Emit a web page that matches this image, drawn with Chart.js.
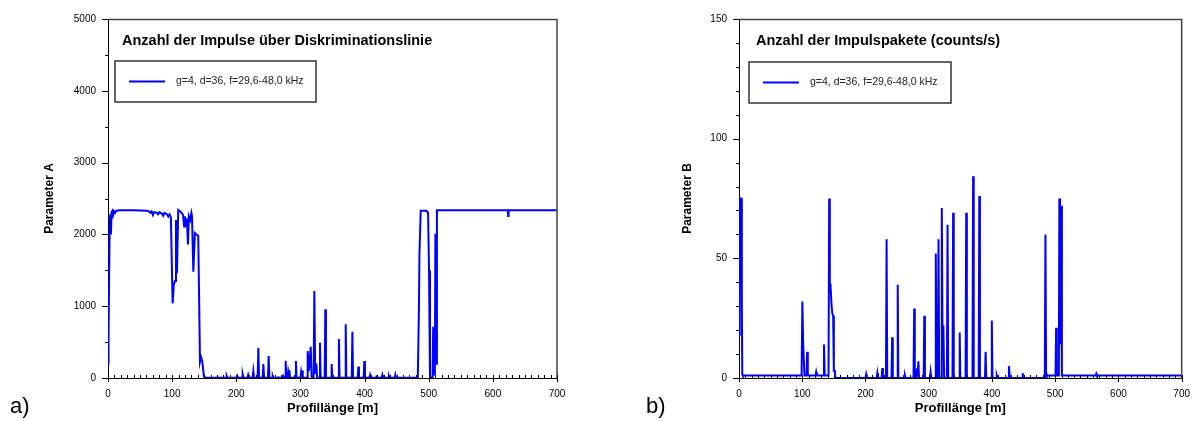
<!DOCTYPE html>
<html><head><meta charset="utf-8">
<script src="https://cdn.jsdelivr.net/npm/chart.js@4.4.0/dist/chart.umd.min.js"></script>
<style>
html,body{margin:0;padding:0;background:#fff;width:1200px;height:421px;overflow:hidden;}
.c{position:absolute;top:0;width:600px;height:421px;}
.lab{position:absolute;font-family:"Liberation Sans",Arial,sans-serif;font-size:22px;line-height:22px;color:#000;}
</style></head><body>
<div class="c" style="left:0"><canvas id="cA" width="600" height="421"></canvas></div>
<div class="c" style="left:600px"><canvas id="cB" width="600" height="421"></canvas></div>
<div class="lab" style="left:10px;top:395px">a)</div>
<div class="lab" style="left:646px;top:395px">b)</div>
<script>
// ---------- data ----------
const seriesLabel = 'g=4, d=36, f=29,6-48,0 kHz';
const titleA = 'Anzahl der Impulse über Diskriminationslinie';
const titleB = 'Anzahl der Impulspakete (counts/s)';
const xAxisTitle = 'Profillänge [m]';
const yAxisTitleA = 'Parameter A';
const yAxisTitleB = 'Parameter B';
const xTickValues = [0, 100, 200, 300, 400, 500, 600, 700];
const yTickValuesA = [0, 1000, 2000, 3000, 4000, 5000];
const yTickValuesB = [0, 50, 100, 150];

const profA_x = [0,0.5,1.2,2.5,3.5,4.6,5.5,7,8,9.5,11,13,20,40,60,64,66,68,70,72,76,78,80,84,86,88,92,94,96,98,
 100.8,102.5,104.5,106,107.5,109.5,114,117,118.7,120,122,123,124.7,126,128,130,131,133,135.5,138,140.7,143.4,145,147,149.6,152.6,
 184,185,186, 200.5,201.6,202.7, 209,210,211, 217.5,218.5,219.5, 225.5,226.6,227.7, 233.3,234.4,235.5,
 241.1,242.2,243.3, 249.4,250.5,251.6, 255.8,256.8,257.8, 264.6,265.6,266.6, 272,273,274, 276,277,278,
 280,281,282,282.8,283.8, 292,293,294, 300,301,301.8,302.6,303.6,
 310.3,311.3,313.2,316,317.5, 320.6,321.7,323,324.8,326,
 329.5,330.5,331.5, 337.8,338.8,339.8, 347.7,348.7,349.7, 359,360,361, 369.6,370.6,371.6, 380,381,382,
 389.3,390.3,391.3, 398.6,399.6,400.6, 407.6,408.6,409.6, 418,419,420, 426.7,427.7,428.7, 437,438,439, 447,448,449,
 483,484.8,485.5,487.5,496.5,499,500.5,502,506,507,508,509.6,510.4,511.5,512.8,
 623.6,623.9,624.4,624.7,700];
const profA_y = [200,700,600,2050,2280,2000,2310,2330,2270,2320,2300,2330,2335,2335,2330,2320,2300,2320,2270,2310,2300,2280,2310,2290,2260,2300,2280,2250,2280,2240,
 1040,1300,1350,2200,1460,2340,2310,2270,2110,2250,2130,2220,1860,2250,2200,2300,2250,1480,2020,2000,1980,228,290,230,20,3,
 3,28,3, 3,28,3, 3,46,3, 3,40,3, 3,97,3, 3,422,3,
 3,195,3, 3,306,3, 3,28,3, 3,10,3, 3,28,3, 3,241,3,
 3,90,40,111,3, 3,237,3, 3,80,30,105,3,
 3,376,100,436,10, 10,1212,60,204,3,
 3,492,3, 3,957,3, 3,195,3, 3,543,3, 3,748,3, 3,645,3,
 3,158,3, 3,237,3, 3,40,3, 3,14,3, 3,40,3, 3,28,3, 3,45,3,
 3,1000,1700,2330,2330,2300,1500,10,10,715,50,50,2010,200,2335,
 2335,2255,2255,2335,2335];

const profB_x = [0,1.1,3.7,4.5,5.2,6,99,100.2,101.5,103.5,106.8,107.8,108.8,121,122,123,133.2,134.4,135.6,
 141.6,142.6,143.6,144.7,146.2,147.5,148.9,150,151.5,152.5,
 200,201,202, 217.8,218.8,219.8, 225.6,226.6,227.6, 232.4,233.4,234.4, 241.2,242.2,243.2, 250,251,252,
 261.5,262.5,263.5, 276,277,278, 280,281,282.3,283.7,284.7, 292,293,294, 302,303,304,
 310.2,311.2,312.4,314.4,315.5,316.6, 319.6,320.7,322,323.2,324.4,
 328.8,329.8,330.8, 337.6,338.6,339.6, 348,349,350, 358.3,359.3,360.3, 369.2,370.2,371.2,
 379,380,381, 389,390,391, 398.8,399.8,400.8, 406.6,407.6,408.6, 425.8,426.8,427.8,428.6, 447.6,448.6,449.6,
 483.6,484.6,485.6,486.5, 500.5,501.5,502.5, 505.8,506.6,507.6,508.4,509.4,510.6,
 564,565,566,700];
const profB_y = [18,75,75,30,1.4,1,1,32,14,1,1,11,1,1,2.5,1,1,14,1,
 1,75,40,39,31,27,26,3,3,0,
 0,1.5,0, 0,2,0, 0,4.2,0, 0,58,0, 0,17,0, 0,39,0,
 0,1,0, 0,29,0, 0,4,1,7,0, 0,26,0, 0,2.5,0,
 0,52,0,0,58,0, 0,71,10,22,0,
 0,64,0, 0,69,0, 0,19,0, 0,69,0, 0,84.3,0,
 0,76,0, 0,11,0, 0,24,0, 0,1,0, 0,5,2,0, 0,2,0,
 0,60,2,1, 1,21,1, 1,75,71,14,72,1,
 1,1.8,1,1];

// ---------- drawing ----------
const FONT = "'Liberation Sans', Arial, sans-serif";
Chart.defaults.font.family = FONT;
Chart.defaults.color = '#000';

const decorPlugin = {
  id: 'decor',
  afterDraw(chart, args, o) {
    const {ctx, chartArea: a, scales: {x, y}} = chart;
    ctx.save();
    // frame top & right
    ctx.strokeStyle = '#444'; ctx.lineWidth = 1.5;
    ctx.beginPath(); ctx.moveTo(a.left, a.top + 0.5); ctx.lineTo(a.right, a.top + 0.5); ctx.lineTo(a.right, a.bottom); ctx.stroke();
    // y ticks (outside)
    ctx.strokeStyle = '#000'; ctx.lineWidth = 1;
    for (let v = y.min; v <= y.max + 1e-6; v += o.yMinor) {
      const p = Math.round(y.getPixelForValue(v)) + 0.5;
      const major = Math.abs(v / o.yMajor - Math.round(v / o.yMajor)) < 1e-6;
      const len = major ? 6 : 3;
      ctx.beginPath(); ctx.moveTo(a.left - len, p); ctx.lineTo(a.left, p); ctx.stroke();
    }
    // x ticks (inside, majors crossing)
    for (let v = x.min; v <= x.max + 1e-6; v += 10) {
      const p = Math.round(x.getPixelForValue(v)) + 0.5;
      const major = v % 100 === 0;
      ctx.beginPath(); ctx.moveTo(p, a.bottom - 3); ctx.lineTo(p, a.bottom + (major ? 4 : 0)); ctx.stroke();
    }
    // title inside plot
    ctx.fillStyle = '#000';
    ctx.font = 'bold 14.5px ' + FONT;
    ctx.textBaseline = 'middle'; ctx.textAlign = 'left';
    ctx.fillText(o.title, o.titleX, o.titleY);
    // legend box
    const L = o.legend;
    ctx.fillStyle = '#fff';
    ctx.fillRect(L.x, L.y, L.w, L.h);
    ctx.strokeStyle = '#333'; ctx.lineWidth = 1.5;
    ctx.strokeRect(L.x, L.y, L.w, L.h);
    const ly = L.y + L.h / 2;
    const ds = chart.data.datasets[0];
    ctx.strokeStyle = ds.borderColor; ctx.lineWidth = 2;
    ctx.beginPath(); ctx.moveTo(L.x + 14, ly); ctx.lineTo(L.x + 50, ly); ctx.stroke();
    ctx.fillStyle = '#222';
    ctx.font = '10.5px ' + FONT;
    ctx.fillText(ds.label, L.x + 61, ly);
    ctx.restore();
  }
};

function makeChart(id, xs, ys, cfg) {
  const pts = xs.map((v, i) => ({x: v, y: ys[i]}));
  return new Chart(document.getElementById(id), {
    type: 'line',
    data: { datasets: [{ label: seriesLabel, data: pts, borderColor: '#0000ff', borderWidth: 2,
      pointRadius: 0, tension: 0, fill: false }] },
    options: {
      responsive: false, animation: false, devicePixelRatio: 1,
      layout: { padding: cfg.padding },
      plugins: { legend: { display: false }, tooltip: { enabled: false }, decor: cfg.decor },
      scales: {
        x: {
          type: 'linear', min: 0, max: 700,
          afterBuildTicks: s => { s.ticks = xTickValues.map(v => ({value: v})); },
          afterFit: s => { s.height = 43; },
          grid: { display: false, drawTicks: false },
          border: { display: true, color: '#000', width: 1 },
          ticks: { padding: 10, font: { size: 10 }, maxRotation: 0, autoSkip: false, callback: v => String(v) },
          title: { display: true, text: xAxisTitle, font: { size: 13, weight: 'bold' }, padding: { top: 0, bottom: 5 } }
        },
        y: {
          type: 'linear', min: 0, max: cfg.yMax,
          afterBuildTicks: s => { s.ticks = cfg.yTicks.map(v => ({value: v})); },
          afterFit: s => { s.width = cfg.yWidth; },
          grid: { display: false, drawTicks: false },
          border: { display: true, color: '#000', width: 1 },
          ticks: { padding: 12, font: { size: 10 }, autoSkip: false, callback: v => String(v) },
          title: { display: true, text: cfg.yTitle, font: { size: 12, weight: 'bold' }, padding: { top: 0, bottom: 0 } }
        }
      }
    },
    plugins: [decorPlugin]
  });
}

makeChart('cA', profA_x, profA_y, {
  padding: { left: 42, top: 19, right: 43, bottom: 0 },
  yMax: 5000, yTicks: yTickValuesA, yWidth: 66, yTitle: yAxisTitleA,
  decor: { yMinor: 500, yMajor: 1000, title: titleA, titleX: 122, titleY: 41,
    legend: { x: 115, y: 61, w: 201, h: 41 } }
});
makeChart('cB', profB_x, profB_y, {
  padding: { left: 80, top: 19, right: 11, bottom: 0 },
  yMax: 150, yTicks: yTickValuesB, yWidth: 59, yTitle: yAxisTitleB,
  decor: { yMinor: 10, yMajor: 50, title: titleB, titleX: 156, titleY: 41,
    legend: { x: 149, y: 62, w: 202, h: 41 } }
});
</script>
</body></html>
